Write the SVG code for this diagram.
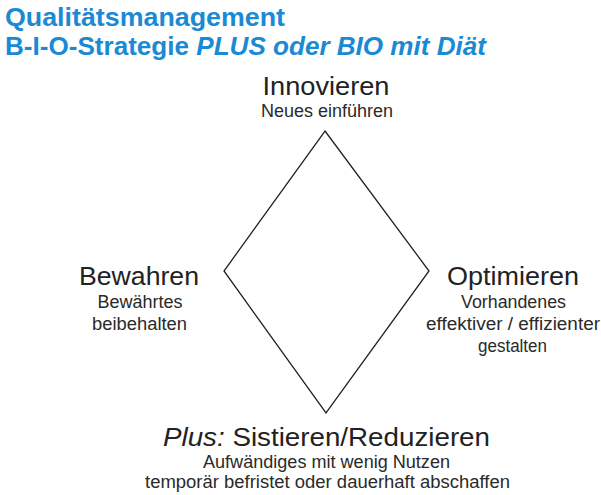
<svg xmlns="http://www.w3.org/2000/svg" width="601" height="495" viewBox="0 0 601 495">
  <style>
    .title { font-family: "Liberation Sans", Arial, sans-serif; font-weight: bold; font-size: 25px; fill: #1a8ad4; }
    .head { font-family: "Liberation Sans", Arial, sans-serif; font-size: 26px; fill: #222222; text-anchor: middle; }
    .sub { font-family: "Liberation Sans", Arial, sans-serif; font-size: 17.5px; fill: #2a2a2a; text-anchor: middle; }
    .edge { fill: none; stroke: #222222; stroke-width: 1.3; stroke-linejoin: miter; }
  </style>
  <rect width="601" height="495" fill="#ffffff"/>

  <g id="title">
    <text class="title" x="5" y="26" textLength="280" lengthAdjust="spacingAndGlyphs">Qualitätsmanagement</text>
    <text class="title" x="5" y="55" textLength="481" lengthAdjust="spacingAndGlyphs">B-I-O-Strategie <tspan font-style="italic">PLUS oder BIO mit Diät</tspan></text>
  </g>

  <g id="connectors">
    <polygon class="edge" points="325,131 429,271 326,413 224,271"/>
  </g>

  <g id="innovieren">
    <text class="head" x="326" y="95" textLength="127" lengthAdjust="spacingAndGlyphs">Innovieren</text>
    <text class="sub" x="327" y="117" textLength="132" lengthAdjust="spacingAndGlyphs">Neues einführen</text>
  </g>

  <g id="bewahren">
    <text class="head" x="139" y="285" textLength="120" lengthAdjust="spacingAndGlyphs">Bewahren</text>
    <text class="sub" x="140" y="308" textLength="85" lengthAdjust="spacingAndGlyphs">Bewährtes</text>
    <text class="sub" x="139.5" y="330" textLength="95" lengthAdjust="spacingAndGlyphs">beibehalten</text>
  </g>

  <g id="optimieren">
    <text class="head" x="513" y="285" textLength="132" lengthAdjust="spacingAndGlyphs">Optimieren</text>
    <text class="sub" x="513.5" y="308" textLength="105" lengthAdjust="spacingAndGlyphs">Vorhandenes</text>
    <text class="sub" x="513" y="330" textLength="174" lengthAdjust="spacingAndGlyphs">effektiver / effizienter</text>
    <text class="sub" x="512.5" y="352" textLength="69" lengthAdjust="spacingAndGlyphs">gestalten</text>
  </g>

  <g id="reduzieren">
    <text class="head" x="326.5" y="446" textLength="327" lengthAdjust="spacingAndGlyphs"><tspan font-style="italic">Plus:</tspan> Sistieren/Reduzieren</text>
    <text class="sub" x="326.5" y="468" textLength="247" lengthAdjust="spacingAndGlyphs">Aufwändiges mit wenig Nutzen</text>
    <text class="sub" x="327.5" y="488" textLength="365" lengthAdjust="spacingAndGlyphs">temporär befristet oder dauerhaft abschaffen</text>
  </g>
</svg>
